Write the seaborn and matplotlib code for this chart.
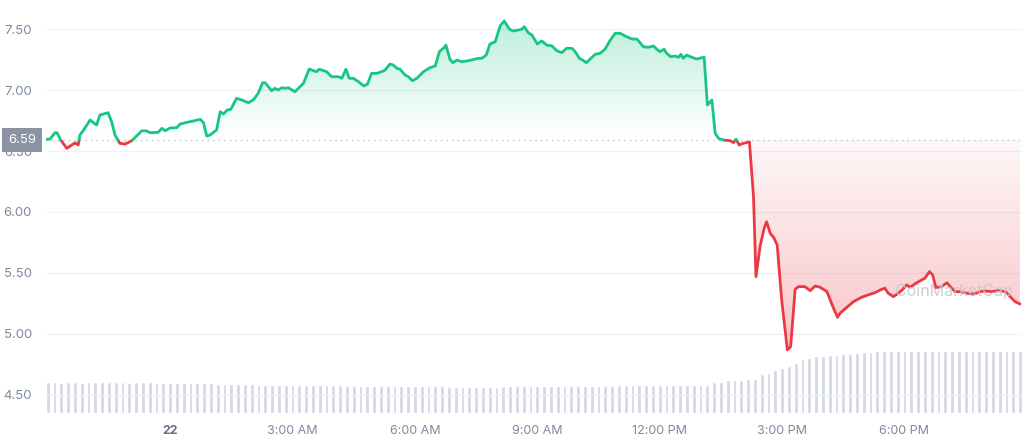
import numpy as np
import pandas as pd
import matplotlib
matplotlib.use('Agg')
import matplotlib.pyplot as plt
import matplotlib.transforms as mtransforms
import seaborn as sns

# price trace (hours relative to midnight of the 22nd, price in USD)
hours = [-3.02, -2.94, -2.82, -2.77, -2.68, -2.53, -2.41, -2.33, -2.25, -2.21, -2.13, -1.96, -1.80, -1.72,
         -1.52, -1.43, -1.35, -1.23, -1.10, -0.94, -0.82, -0.69, -0.57, -0.49, -0.29, -0.20, -0.12, 0.00,
         0.16, 0.25, 0.41, 0.57, 0.74, 0.82, 0.90, 0.98, 1.14, 1.23, 1.31, 1.40, 1.49, 1.63, 1.76, 1.92,
         2.04, 2.16, 2.27, 2.33, 2.49, 2.57, 2.65, 2.74, 2.82, 2.90, 3.06, 3.23, 3.27, 3.41, 3.58, 3.66,
         3.84, 3.96, 4.13, 4.21, 4.31, 4.39, 4.49, 4.62, 4.75, 4.84, 4.94, 5.07, 5.23, 5.27, 5.39, 5.47,
         5.56, 5.64, 5.76, 5.84, 5.94, 6.05, 6.21, 6.37, 6.50, 6.60, 6.74, 6.76, 6.86, 6.93, 7.03, 7.15,
         7.31, 7.48, 7.56, 7.64, 7.75, 7.84, 7.97, 8.09, 8.19, 8.32, 8.41, 8.54, 8.62, 8.68, 8.78, 8.87,
         9.00, 9.11, 9.23, 9.36, 9.48, 9.60, 9.72, 9.85, 9.93, 10.03, 10.11, 10.20, 10.29, 10.42, 10.54,
         10.66, 10.78, 10.91, 11.03, 11.15, 11.32, 11.44, 11.52, 11.60, 11.72, 11.85, 11.93, 12.01, 12.11,
         12.17, 12.27, 12.38, 12.46, 12.52, 12.58, 12.66, 12.79, 12.91, 13.03, 13.09, 13.17, 13.24, 13.28,
         13.36, 13.44, 13.56, 13.73, 13.81, 13.87, 13.95, 14.05, 14.20, 14.30, 14.36, 14.46, 14.56, 14.62,
         14.71, 14.79, 14.88, 14.99, 15.13, 15.21, 15.32, 15.40, 15.56, 15.69, 15.81, 15.93, 16.10, 16.26,
         16.36, 16.42, 16.59, 16.75, 16.95, 17.11, 17.28, 17.44, 17.52, 17.60, 17.73, 17.85, 17.96, 18.05,
         18.14, 18.30, 18.50, 18.61, 18.69, 18.77, 18.91, 19.04, 19.12, 19.24, 19.36, 19.53, 19.69, 19.85,
         19.98, 20.14, 20.30, 20.47, 20.59, 20.71, 20.83]
price = [6.596, 6.598, 6.650, 6.650, 6.590, 6.522, 6.549, 6.566, 6.549, 6.631, 6.666, 6.754, 6.713, 6.795,
         6.814, 6.740, 6.631, 6.563, 6.557, 6.584, 6.623, 6.666, 6.664, 6.650, 6.653, 6.686, 6.666, 6.689,
         6.691, 6.721, 6.735, 6.746, 6.760, 6.732, 6.623, 6.631, 6.672, 6.822, 6.803, 6.836, 6.842, 6.932,
         6.918, 6.896, 6.918, 6.973, 7.060, 7.060, 6.994, 7.014, 7.000, 7.019, 7.014, 7.019, 6.986, 7.041,
         7.055, 7.172, 7.150, 7.170, 7.150, 7.109, 7.109, 7.096, 7.170, 7.096, 7.096, 7.068, 7.033, 7.049,
         7.137, 7.137, 7.156, 7.164, 7.213, 7.205, 7.178, 7.170, 7.123, 7.109, 7.076, 7.096, 7.150, 7.183,
         7.197, 7.314, 7.355, 7.369, 7.252, 7.224, 7.246, 7.232, 7.240, 7.254, 7.260, 7.260, 7.287, 7.377,
         7.396, 7.525, 7.566, 7.498, 7.484, 7.492, 7.498, 7.519, 7.470, 7.451, 7.377, 7.402, 7.369, 7.361,
         7.322, 7.306, 7.342, 7.342, 7.314, 7.260, 7.246, 7.224, 7.252, 7.293, 7.301, 7.334, 7.404, 7.465,
         7.465, 7.443, 7.418, 7.418, 7.388, 7.355, 7.350, 7.361, 7.334, 7.314, 7.334, 7.301, 7.273, 7.279,
         7.268, 7.293, 7.260, 7.287, 7.268, 7.254, 7.265, 7.268, 6.877, 6.904, 6.918, 6.645, 6.604, 6.590,
         6.584, 6.568, 6.596, 6.549, 6.563, 6.574, 6.125, 5.470, 5.716, 5.866, 5.920, 5.825, 5.793, 5.730,
         5.279, 4.869, 4.896, 5.366, 5.388, 5.388, 5.355, 5.393, 5.383, 5.347, 5.211, 5.137, 5.170, 5.219,
         5.265, 5.301, 5.320, 5.339, 5.366, 5.375, 5.334, 5.306, 5.334, 5.366, 5.402, 5.383, 5.420, 5.457,
         5.511, 5.484, 5.380, 5.388, 5.420, 5.388, 5.347, 5.347, 5.334, 5.325, 5.347, 5.352, 5.347, 5.355,
         5.347, 5.306, 5.265, 5.246]
open_price = 6.59

# volume bars, one every 10 minutes from -3h (arbitrary units)
vol_start = -3.0
vol_step = 1 / 6
volume = [30.0, 30.2, 29.8, 30.4, 30.1, 29.9, 30.3, 30.5, 30.2, 30.0, 30.4, 30.1,
          29.8, 30.2, 30.3, 30.0, 29.9, 29.5, 29.6, 29.8, 29.4, 29.3, 29.5, 29.2,
          29.0, 28.8, 28.9, 28.6, 28.4, 28.2, 28.0, 27.9, 27.8, 27.8, 27.6, 27.5,
          27.6, 27.4, 27.3, 27.2, 27.3, 27.1, 27.0, 27.0, 26.9, 26.8, 26.8, 26.7,
          26.6, 26.6, 26.5, 26.4, 26.5, 26.3, 26.2, 26.2, 26.1, 26.0, 26.0, 25.9,
          25.8, 25.9, 25.8, 25.7, 25.8, 25.8, 25.9, 26.0, 26.0, 26.1, 26.0, 26.2,
          26.2, 26.3, 26.3, 26.4, 26.5, 26.5, 26.6, 26.6, 26.7, 26.8, 26.8, 26.9,
          27.0, 27.0, 27.0, 27.1, 27.2, 27.2, 27.3, 27.4, 27.5, 27.5, 27.6, 27.7,
          27.7, 27.8, 30.0, 30.5, 32.5, 32.7, 32.8, 33.0, 33.7, 38.5, 39.0, 42.0,
          44.5, 46.0, 49.5, 52.5, 54.0, 55.5, 56.0, 56.5, 57.0, 57.5, 58.0, 59.0,
          59.5, 60.0, 60.3, 60.5, 60.6, 60.5, 60.7, 60.8, 60.8, 60.7, 60.9, 61.0,
          60.9, 61.0, 61.1, 61.0, 61.2, 61.1, 61.0, 61.2, 61.1, 61.0, 61.1, 61.0]

tick_hours = [0, 3, 6, 9, 12, 15, 18]
tick_labels = ['22', '3:00 AM', '6:00 AM', '9:00 AM', '12:00 PM', '3:00 PM', '6:00 PM']
y_ticks = [4.5, 5.0, 5.5, 6.0, 6.5, 7.0, 7.5]

GREEN = '#16c784'
RED = '#ea3943'
GREY = '#808a9d'

sns.set_theme(style='white')
plt.rcParams['font.family'] = ['Inter', 'DejaVu Sans']

fig = plt.figure(figsize=(10.24, 4.41), dpi=100)
ax = fig.add_axes([46 / 1024, 28 / 441, 976 / 1024, 408 / 441])
ax.set_xlim(-3.04, 20.88)
ax.set_ylim(4.352, 7.697)

# split the line where it crosses the open price so each side gets its own colour
t = np.array(hours)
p = np.array(price)
rows = []
seg = 0
above = p[0] >= open_price
for i in range(len(t)):
    if i > 0 and (p[i] >= open_price) != above:
        f = (open_price - p[i - 1]) / (p[i] - p[i - 1])
        tc = t[i - 1] + f * (t[i] - t[i - 1])
        rows.append((tc, open_price, seg, above))
        seg += 1
        above = not above
        rows.append((tc, open_price, seg, above))
    rows.append((t[i], p[i], seg, above))
df = pd.DataFrame(rows, columns=['hour', 'price', 'seg', 'above'])

# gradient fills clipped to the area between the line and the open price
tx = df['hour'].to_numpy()
py = df['price'].to_numpy()
x0, x1 = ax.get_xlim()

green_poly = ax.fill_between(tx, np.maximum(py, open_price), open_price, color='none', lw=0)
g = np.linspace(0, 1, 256)[:, None]
img = np.zeros((256, 1, 4))
img[..., :3] = matplotlib.colors.to_rgb(GREEN)
img[..., 3] = 0.30 * g
im = ax.imshow(img, extent=[x0, x1, open_price, 7.62], origin='lower', aspect='auto', zorder=1)
im.set_clip_path(green_poly.get_paths()[0], transform=ax.transData)

red_poly = ax.fill_between(tx, np.minimum(py, open_price), open_price, color='none', lw=0)
img2 = np.zeros((256, 1, 4))
img2[..., :3] = matplotlib.colors.to_rgb(RED)
img2[..., 3] = 0.04 + 0.26 * (1 - g)
im2 = ax.imshow(img2, extent=[x0, x1, 4.85, open_price], origin='lower', aspect='auto', zorder=1)
im2.set_clip_path(red_poly.get_paths()[0], transform=ax.transData)
ax.set_xlim(x0, x1)
ax.set_ylim(4.352, 7.697)

# volume on a hidden twin axis
ax2 = ax.twinx()
vol_x = vol_start + vol_step * np.arange(len(volume))
ax2.bar(vol_x, volume, width=vol_step * 0.55, color='#d3d7e3', zorder=1)
ax2.set_ylim(0, 400)
ax2.set_yticks([])
for s in ax2.spines.values():
    s.set_visible(False)
ax2.set_zorder(0)
ax.set_zorder(1)
ax.patch.set_visible(False)

sns.lineplot(data=df, x='hour', y='price', hue='above', units='seg', estimator=None, sort=False,
             palette={True: GREEN, False: RED}, linewidth=2, legend=False, ax=ax, zorder=3)

ax.axhline(open_price, color='#b8bdc8', lw=1, ls=(0, (1, 3)), zorder=2)

ax.set_yticks(y_ticks)
ax.set_yticklabels([f'{v:.2f}' for v in y_ticks])
ax.grid(axis='y', color='#eff2f5', lw=1)
ax.set_axisbelow(True)
ax.set_xticks(tick_hours)
ax.set_xticklabels(tick_labels)
ax.tick_params(axis='x', length=3, width=1, color='#c9ccd4', labelsize=9, labelcolor=GREY, pad=6)
ax.tick_params(axis='y', length=0, labelsize=9.5, labelcolor=GREY, pad=10)
ax.get_xticklabels()[0].set_fontweight('bold')
ax.get_xticklabels()[0].set_color('#616e85')
ax.set_xlabel('')
ax.set_ylabel('')
for s in ax.spines.values():
    s.set_visible(False)

# current open price tag on the left
trans = mtransforms.blended_transform_factory(fig.transFigure, ax.transData)
ax.text(22 / 1024, open_price, f'{open_price:.2f}', transform=trans, ha='center', va='center',
        color='white', fontsize=9.5, zorder=10,
        bbox=dict(boxstyle='square,pad=0.45', fc='#8b92a3', ec='none'))

# watermark
ax.text(0.87, 0.297, 'CoinMarketCap', transform=ax.transAxes, fontsize=11.5, color='#c3c8d3',
        alpha=0.9, ha='left', va='center', zorder=5)

fig.savefig('out.png', dpi=100)
